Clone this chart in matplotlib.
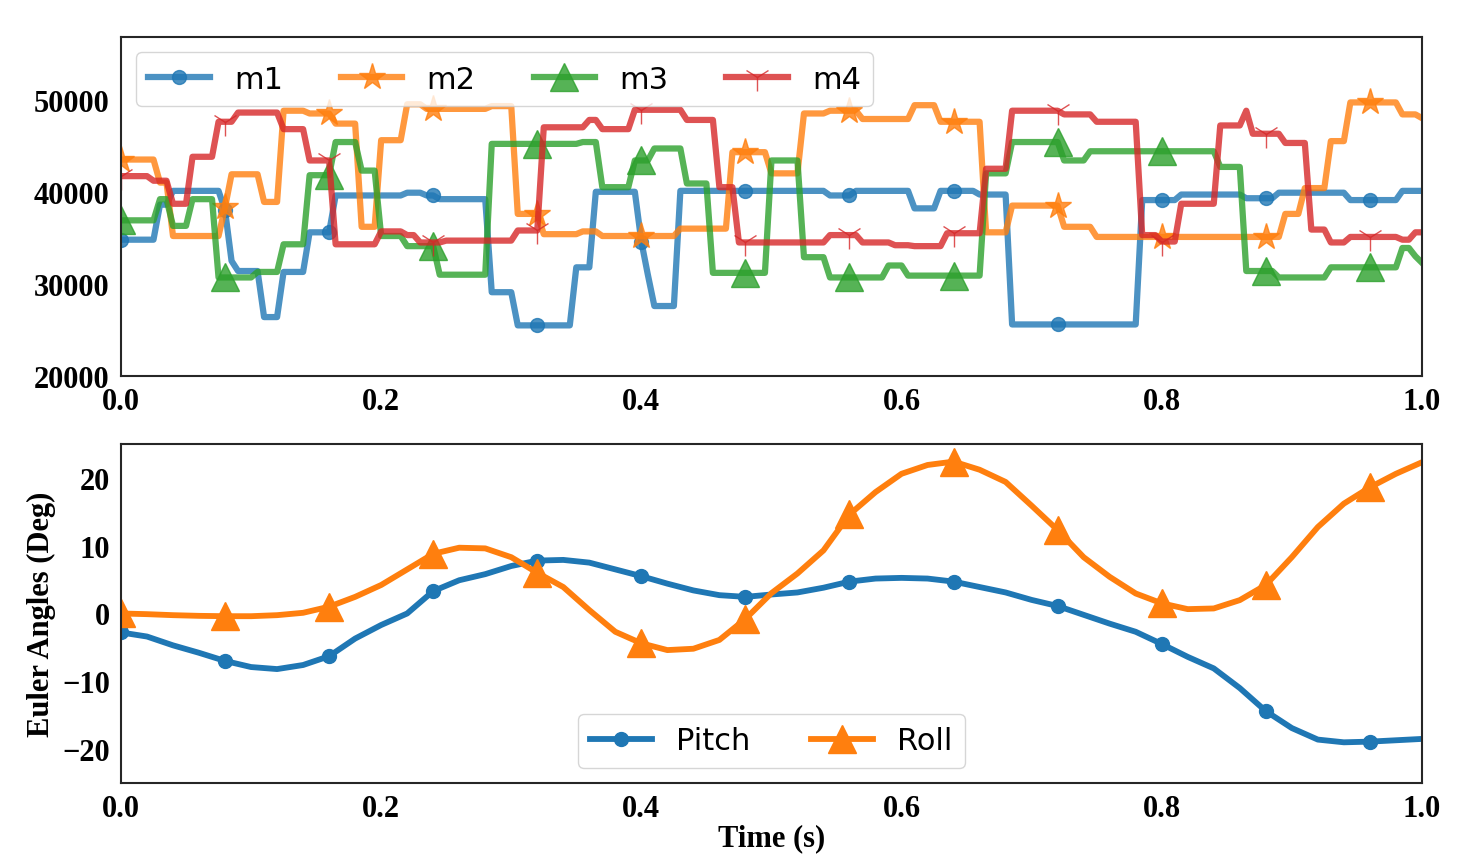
import numpy as np
import matplotlib
matplotlib.use("Agg")
import matplotlib.pyplot as plt

# ---- top panel: motor signals, step data every 0.005 s (run length coded) ----
m1_vals = [34800, 38600, 40100, 38000, 32500, 31400, 26400, 31300, 35600, 39600,
           39900, 39600, 39200, 29100, 25500, 31800, 40000, 34600, 31000, 27600,
           40100, 39600, 40100, 38200, 40100, 39700, 25600, 39100, 39700, 39300,
           39900, 39100, 40100]
m1_lens = [6, 2, 8, 1, 1, 4, 3, 4, 4, 11,
           3, 2, 8, 4, 9, 3, 7, 1, 1, 4,
           23, 4, 9, 4, 6, 5, 20, 6, 10, 5,
           11, 8, 4]

m2_vals = [43500, 41000, 35200, 38300, 41900, 38900, 48800, 48500, 47400, 36200,
           45600, 49500, 49000, 49300, 37600, 35400, 35700, 35200, 36000, 44300,
           42000, 48500, 48800, 47900, 49400, 47600, 35600, 38500, 36200, 35100,
           37600, 40400, 45500, 49700, 48400, 48000]
m2_lens = [6, 2, 8, 1, 5, 3, 4, 4, 4, 3,
           4, 3, 10, 4, 4, 6, 3, 12, 8, 6,
           5, 4, 5, 8, 4, 7, 4, 8, 5, 29,
           3, 4, 3, 8, 3, 1]

m3_vals = [36900, 39200, 36300, 39200, 30700, 31300, 34300, 41800, 45400, 42300,
           35200, 34100, 31000, 45200, 45400, 40500, 43400, 44700, 40900, 31200,
           43400, 32900, 30700, 32000, 30900, 42000, 45400, 43400, 44400, 42700,
           31400, 30700, 31800, 33900, 33000, 32300]
m3_lens = [6, 2, 3, 4, 6, 4, 4, 4, 4, 3,
           4, 5, 8, 14, 3, 5, 3, 5, 4, 9,
           5, 4, 9, 3, 12, 4, 8, 4, 20, 4,
           5, 8, 11, 2, 1, 1]

m4_vals = [41700, 41200, 38700, 43800, 47600, 48600, 46800, 43400, 34300, 35700,
           35300, 34500, 34700, 35800, 47000, 47800, 46800, 48900, 47800, 40500,
           34500, 35300, 34500, 34200, 34100, 35500, 42500, 48800, 48400, 47600,
           35300, 34600, 38700, 47200, 48800, 46300, 45300, 35900, 34500, 35100,
           34800, 35600]
m4_lens = [5, 3, 3, 4, 3, 7, 4, 4, 7, 4,
           2, 4, 11, 4, 7, 2, 5, 8, 5, 3,
           14, 5, 5, 3, 5, 6, 4, 8, 5, 7,
           3, 3, 6, 4, 1, 5, 4, 3, 3, 8,
           2, 2]

# ---- bottom panel: Euler angles every 0.02 s ----
pitch = [-2.8, -3.4, -4.7, -5.8, -7.0, -7.9, -8.2, -7.6, -6.3, -3.7,
         -1.7, 0.0, 3.3, 4.9, 5.8, 7.0, 7.8, 7.9, 7.5, 6.5,
         5.5, 4.4, 3.4, 2.7, 2.45, 2.8, 3.1, 3.8, 4.7, 5.15,
         5.25, 5.15, 4.7, 3.9, 3.1, 2.0, 1.1, -0.2, -1.5, -2.7,
         -4.5, -6.4, -8.1, -11.0, -14.4, -16.9, -18.6, -19.0, -18.9, -18.7,
         -18.5]
roll = [0.0, -0.1, -0.25, -0.35, -0.4, -0.4, -0.25, 0.1, 1.0, 2.45,
        4.2, 6.5, 8.8, 9.7, 9.6, 8.3, 6.0, 3.9, 0.5, -2.7,
        -4.4, -5.4, -5.2, -3.9, -0.8, 3.0, 5.9, 9.3, 14.6, 17.9,
        20.6, 21.9, 22.4, 21.2, 19.4, 15.9, 12.3, 8.3, 5.4, 2.95,
        1.5, 0.64, 0.74, 1.97, 4.2, 8.3, 12.75, 16.2, 18.6, 20.6,
        22.3]

t_top = np.linspace(0, 1, 201)
t_bot = np.linspace(0, 1, 51)

tick_font = {"family": "Liberation Serif", "weight": "bold", "size": 22}

fig = plt.figure(figsize=(14.77, 8.62), dpi=100)
ax1 = fig.add_axes([0.0819, 0.5626, 0.8808, 0.3933])
ax2 = fig.add_axes([0.0819, 0.0905, 0.8808, 0.3933])

series = [("m1", m1_vals, m1_lens, "."), ("m2", m2_vals, m2_lens, "*"),
          ("m3", m3_vals, m3_lens, "^"), ("m4", m4_vals, m4_lens, "1")]
for name, vals, lens, mk in series:
    y = np.repeat(vals, lens)
    ax1.plot(t_top, y, marker=mk, markersize=20, markevery=16,
             linewidth=4.5, alpha=0.8, label=name)
ax1.set_xlim(0, 1)
ax1.set_ylim(20000, 56800)
ax1.set_yticks([20000, 30000, 40000, 50000])
ax1.legend(loc="upper left", ncol=4, fontsize=22, columnspacing=1.9)

ax2.plot(t_bot, pitch, marker=".", markersize=20, markevery=4,
         linewidth=4.2, label="Pitch")
ax2.plot(t_bot, roll, marker="^", markersize=20, markevery=4,
         linewidth=4.2, label="Roll")
ax2.set_xlim(0, 1)
ax2.set_ylim(-25, 25)
ax2.set_yticks([-20, -10, 0, 10, 20])
ax2.legend(loc="lower center", ncol=2, fontsize=22)
ax2.set_xlabel("Time (s)", fontdict=tick_font, labelpad=0)
ax2.set_ylabel("Euler Angles (Deg)", fontdict=tick_font)

for ax in (ax1, ax2):
    ax.set_xticks([0.0, 0.2, 0.4, 0.6, 0.8, 1.0])
    ax.tick_params(length=0, pad=8)
    for lab in ax.get_xticklabels() + ax.get_yticklabels():
        lab.set_fontfamily("Liberation Serif")
        lab.set_fontweight("bold")
        lab.set_fontsize(22)
    for sp in ax.spines.values():
        sp.set_color("0.15")
        sp.set_linewidth(1.5)

fig.savefig("out.png", dpi=100)
